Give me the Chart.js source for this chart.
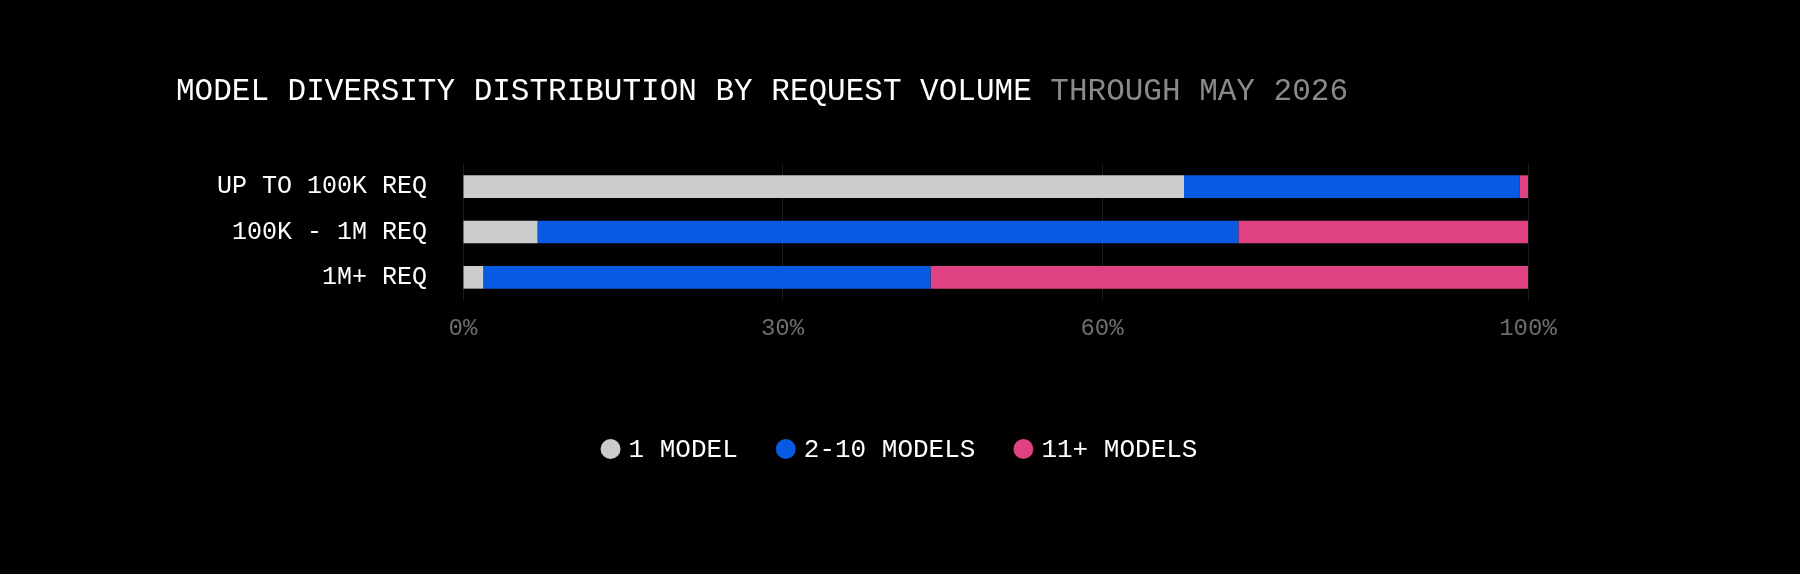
<!DOCTYPE html>
<html><head><meta charset="utf-8">
<script src="https://cdn.jsdelivr.net/npm/chart.js@4"></script>
<style>html,body{margin:0;background:#000;}#w{width:1800px;height:574px;}</style>
</head><body><div id="w"><canvas id="c"></canvas></div>
<script>
const categories = ["UP TO 100K REQ", "100K - 1M REQ", "1M+ REQ"];
const seriesNames = ["1 MODEL", "2-10 MODELS", "11+ MODELS"];
const oneModel = [67.7, 7.0, 1.9];
const twoToTen = [31.5, 65.8, 42.0];
const elevenPlus = [0.8, 27.2, 56.1];
const tickValues = [0, 30, 60, 100];
const colors = ["#cccccc", "#095ae3", "#df4283"];
const FONT = "'Liberation Mono', 'DejaVu Sans Mono', monospace";

const overlay = {
  id: 'overlay',
  afterDraw(chart) {
    const ctx = chart.ctx;
    ctx.save();
    ctx.font = "500 31px " + FONT;
    ctx.textBaseline = 'middle';
    ctx.textAlign = 'left';
    const t1 = "MODEL DIVERSITY DISTRIBUTION BY REQUEST VOLUME ";
    ctx.fillStyle = '#ffffff';
    ctx.fillText(t1, 176, 92);
    const w1 = ctx.measureText(t1).width;
    ctx.fillStyle = '#8a8a8a';
    ctx.fillText("THROUGH MAY 2026", 176 + w1, 92);
    // legend
    ctx.font = "26px " + FONT;
    const r = 10, gap = 8, spacing = 38;
    const items = chart.data.datasets.map(d => ({label: d.label, color: d.backgroundColor, w: ctx.measureText(d.label).width}));
    let total = 0;
    items.forEach((it, i) => { total += 2*r + gap + it.w + (i < items.length-1 ? spacing : 0); });
    let x = 899 - total/2;
    const y = 449;
    items.forEach(it => {
      ctx.fillStyle = it.color;
      ctx.beginPath(); ctx.arc(x + r, y, r, 0, Math.PI*2); ctx.fill();
      ctx.fillStyle = '#ffffff';
      ctx.fillText(it.label, x + 2*r + gap, y + 1);
      x += 2*r + gap + it.w + spacing;
    });
    ctx.restore();
  }
};

new Chart(document.getElementById('c'), {
  type: 'bar',
  data: {
    labels: categories,
    datasets: [
      {label: seriesNames[0], data: oneModel, backgroundColor: colors[0]},
      {label: seriesNames[1], data: twoToTen, backgroundColor: colors[1]},
      {label: seriesNames[2], data: elevenPlus, backgroundColor: colors[2]}
    ]
  },
  options: {
    indexAxis: 'y',
    responsive: true,
    maintainAspectRatio: false,
    animation: false,
    layout: {padding: {top: 164, bottom: 230, left: 0, right: 272}},
    datasets: {bar: {barPercentage: 0.5, categoryPercentage: 1, borderWidth: 0}},
    plugins: {legend: {display: false}, title: {display: false}, tooltip: {enabled: false}},
    scales: {
      x: {
        stacked: true, min: 0, max: 100,
        afterBuildTicks: s => { s.ticks = tickValues.map(v => ({value: v})); },
        afterFit: s => { s.height = 44; },
        grid: {color: '#1c1c1c', drawTicks: false},
        border: {display: false},
        ticks: {color: '#6e6e6e', font: {family: FONT, size: 24}, padding: 14, callback: v => v + '%'}
      },
      y: {
        stacked: true,
        afterFit: s => { s.width = 463; },
        grid: {display: false},
        border: {display: false},
        ticks: {color: '#ffffff', font: {family: FONT, size: 25}, padding: 28}
      }
    }
  },
  plugins: [overlay]
});
</script></body></html>
